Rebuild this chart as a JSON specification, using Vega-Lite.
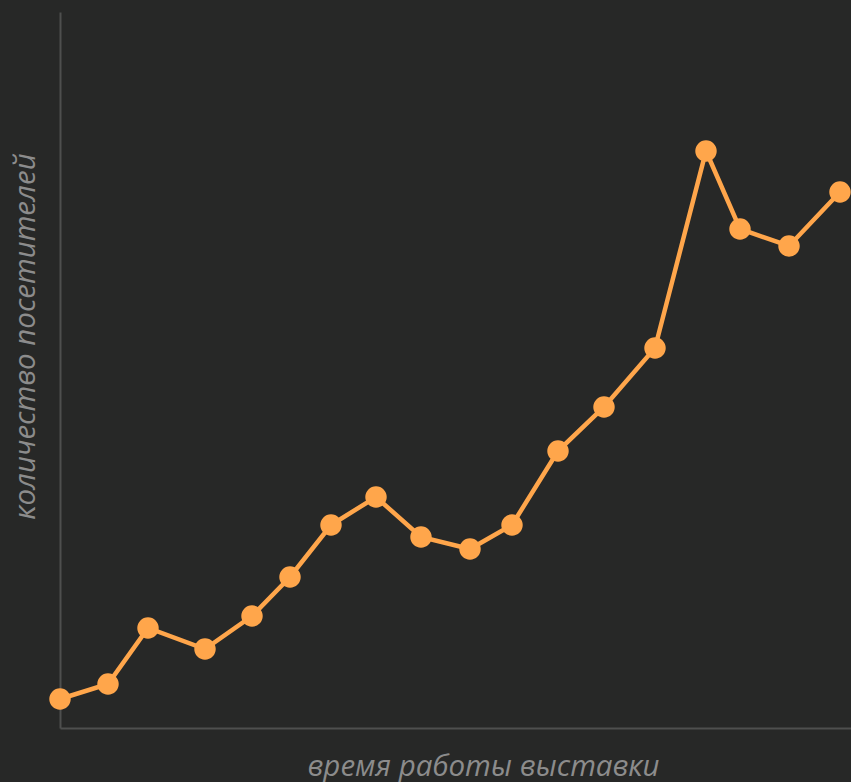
{
  "$schema": "https://vega.github.io/schema/vega-lite/v6.json",
  "width": 791,
  "height": 716,
  "autosize": {"type": "none"},
  "padding": {"left": 60, "top": 12, "right": 0, "bottom": 54},
  "background": "#272827",
  "config": {"view": {"stroke": null}},
  "data": {"values": [
    {"t": 0, "v": 29},
    {"t": 48, "v": 44},
    {"t": 88, "v": 100},
    {"t": 145, "v": 79},
    {"t": 192, "v": 112},
    {"t": 230, "v": 151},
    {"t": 271, "v": 203},
    {"t": 316, "v": 231},
    {"t": 361, "v": 191},
    {"t": 410, "v": 179},
    {"t": 452, "v": 203},
    {"t": 498, "v": 277},
    {"t": 544, "v": 321},
    {"t": 595, "v": 380},
    {"t": 646, "v": 577},
    {"t": 680, "v": 499},
    {"t": 729, "v": 482},
    {"t": 780, "v": 536}
  ]},
  "encoding": {
    "x": {"field": "t", "type": "quantitative", "scale": {"domain": [0, 791], "nice": false, "zero": false},
      "axis": {"title": "время работы выставки", "grid": false, "ticks": false, "labels": false, "domainColor": "#4e4f4e", "domainWidth": 2,
        "titleFont": "Open Sans", "titleFontStyle": "italic", "titleFontWeight": "normal", "titleFontSize": 29.5, "titleColor": "#8c8c8c",
        "titleX": 423, "titleY": 47, "titleAnchor": null, "titleAlign": "center", "titleBaseline": "alphabetic"}},
    "y": {"field": "v", "type": "quantitative", "scale": {"domain": [0, 716], "nice": false},
      "axis": {"title": "количество посетителей", "grid": false, "ticks": false, "labels": false, "domainColor": "#4e4f4e", "domainWidth": 2,
        "titleFont": "Open Sans", "titleFontStyle": "italic", "titleFontWeight": "normal", "titleFontSize": 29.5, "titleColor": "#8c8c8c",
        "titleX": -26, "titleY": 324, "titleAngle": -90, "titleAlign": "center", "titleBaseline": "alphabetic"}}
  },
  "layer": [
    {"mark": {"type": "line", "color": "#ffa64b", "strokeWidth": 4.5, "clip": false}},
    {"mark": {"type": "point", "filled": true, "color": "#ffa64b", "opacity": 1, "size": 460, "clip": false}}
  ]
}
